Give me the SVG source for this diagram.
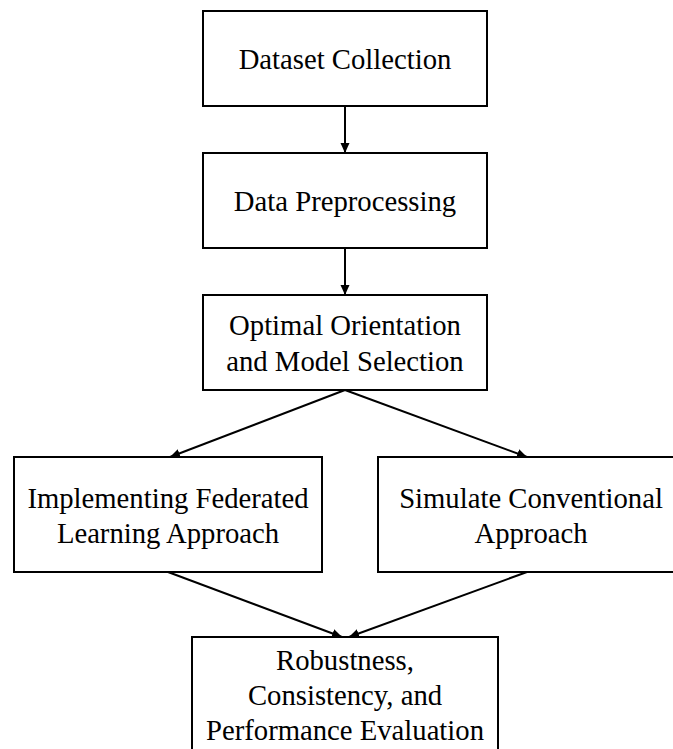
<svg xmlns="http://www.w3.org/2000/svg" width="673" height="749" viewBox="0 0 673 749">
  <style>
    .box { fill: #ffffff; stroke: #000000; stroke-width: 2; }
    .lbl { font-family: "Liberation Serif", "Times New Roman", serif; font-size: 28.7px; fill: #000000; text-anchor: middle; }
    .edge { fill: none; stroke: #000000; stroke-width: 2; marker-end: url(#arrow); }
  </style>
  <defs>
    <marker id="arrow" markerUnits="userSpaceOnUse" markerWidth="12" markerHeight="10" viewBox="0 -5 12 10" refX="10" refY="0" orient="auto">
      <path d="M0,-4.5 L10,0 L0,4.5 z" fill="#000000"/>
    </marker>
  </defs>
  <rect x="0" y="0" width="673" height="749" fill="#ffffff"/>

  <!-- connectors -->
  <g id="connectors">
    <line class="edge" x1="345" y1="106" x2="345" y2="153"/>
    <line class="edge" x1="345" y1="248" x2="345" y2="295"/>
    <line class="edge" x1="345" y1="390" x2="170" y2="457"/>
    <line class="edge" x1="345" y1="390" x2="527" y2="457"/>
    <line class="edge" x1="168" y1="572" x2="342" y2="637"/>
    <line class="edge" x1="527" y1="572" x2="349" y2="637"/>
  </g>

  <g id="dataset-collection">
    <rect class="box" x="203" y="11" width="284" height="95"/>
    <text class="lbl" x="345" y="69">Dataset Collection</text>
  </g>

  <g id="data-preprocessing">
    <rect class="box" x="203" y="153" width="284" height="95"/>
    <text class="lbl" x="345" y="211">Data Preprocessing</text>
  </g>

  <g id="orientation-model-selection">
    <rect class="box" x="203" y="295" width="284" height="95"/>
    <text class="lbl" x="345" y="335">Optimal Orientation</text>
    <text class="lbl" x="345" y="371">and Model Selection</text>
  </g>

  <g id="federated-learning">
    <rect class="box" x="14" y="457" width="308" height="115"/>
    <text class="lbl" x="168" y="508">Implementing Federated</text>
    <text class="lbl" x="168" y="543">Learning Approach</text>
  </g>

  <g id="conventional-approach">
    <rect class="box" x="378" y="457" width="308" height="115"/>
    <text class="lbl" x="531" y="508">Simulate Conventional</text>
    <text class="lbl" x="531" y="543">Approach</text>
  </g>

  <g id="evaluation">
    <rect class="box" x="192" y="637" width="306" height="130"/>
    <text class="lbl" x="345" y="670">Robustness,</text>
    <text class="lbl" x="345" y="705">Consistency, and</text>
    <text class="lbl" x="345" y="740">Performance Evaluation</text>
  </g>
</svg>
